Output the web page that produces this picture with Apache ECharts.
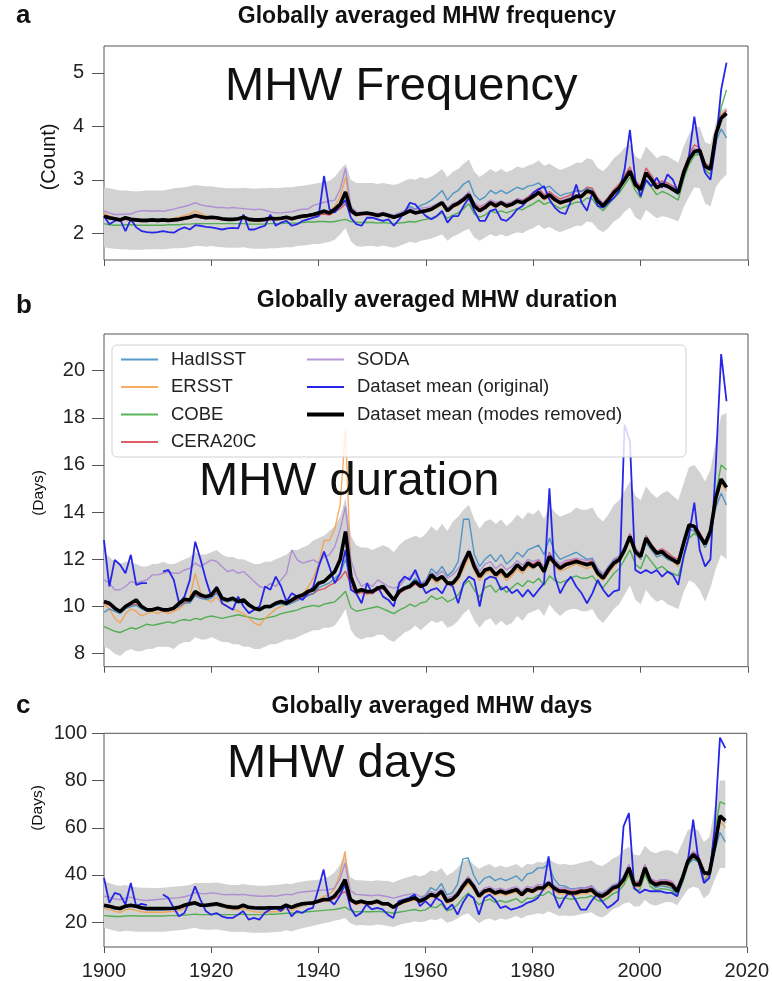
<!DOCTYPE html>
<html><head><meta charset="utf-8">
<script src="https://cdn.jsdelivr.net/npm/echarts@6/dist/echarts.min.js"></script>
<style>html,body{margin:0;padding:0;background:#fff}#c{width:772px;height:981px}</style>
</head><body><div id="c"></div>
<script>
const FIRST_YEAR = 1900, LAST_YEAR = 2016;
const years = []; for (let y = FIRST_YEAR; y <= LAST_YEAR; y++) years.push(y);
const xTicks = [1900, 1920, 1940, 1960, 1980, 2000, 2020];
const freqTicks = [2, 3, 4, 5];
const durTicks = [8, 10, 12, 14, 16, 18, 20];
const daysTicks = [20, 40, 60, 80, 100];
const seriesNames = ['HadISST', 'ERSST', 'COBE', 'CERA20C', 'SODA', 'Dataset mean (original)', 'Dataset mean (modes removed)'];

// ---------- Panel a: MHW frequency (count) ----------
const meanA = [
2.32,2.29,2.27,2.25,2.29,2.26,2.25,2.24,2.24,2.25,
2.24,2.25,2.24,2.25,2.26,2.28,2.30,2.33,2.31,2.29,
2.30,2.29,2.27,2.26,2.26,2.27,2.30,2.26,2.25,2.25,
2.26,2.28,2.27,2.28,2.30,2.27,2.30,2.32,2.33,2.35,
2.38,2.41,2.38,2.45,2.54,2.77,2.43,2.35,2.37,2.38,
2.36,2.33,2.36,2.33,2.30,2.33,2.37,2.42,2.38,2.40,
2.42,2.45,2.51,2.57,2.42,2.51,2.56,2.63,2.72,2.51,
2.42,2.48,2.57,2.51,2.57,2.51,2.54,2.60,2.57,2.63,
2.69,2.76,2.66,2.72,2.63,2.57,2.60,2.63,2.69,2.69,
2.79,2.76,2.60,2.51,2.63,2.76,2.85,3.00,3.16,2.91,
2.82,3.13,3.00,2.85,2.91,2.88,2.82,2.76,3.13,3.38,
3.53,3.55,3.25,3.20,3.84,4.15,4.24];
const origA = [
2.32,2.17,2.23,2.26,2.04,2.26,2.11,2.04,2.02,2.01,
2.02,2.04,2.02,2.01,2.07,2.11,2.07,2.15,2.14,2.12,
2.11,2.09,2.07,2.09,2.10,2.09,2.35,2.07,2.07,2.11,
2.14,2.35,2.14,2.20,2.23,2.14,2.17,2.23,2.26,2.29,
2.32,3.07,2.45,2.39,2.51,2.62,2.29,2.17,2.14,2.29,
2.29,2.26,2.23,2.26,2.14,2.26,2.39,2.57,2.54,2.42,
2.32,2.26,2.32,2.42,2.20,2.32,2.32,2.51,2.66,2.42,
2.23,2.23,2.42,2.45,2.26,2.23,2.32,2.45,2.51,2.63,
2.76,2.82,2.88,2.63,2.48,2.39,2.36,2.60,2.91,2.57,
2.42,2.76,2.51,2.48,2.57,2.66,2.79,3.19,3.93,3.00,
2.69,3.00,2.88,3.04,2.85,3.10,3.00,2.76,3.07,3.44,
4.18,3.50,3.13,3.00,3.68,4.68,5.19];
const sodaA = [
2.42,2.38,2.35,2.35,2.36,2.36,2.40,2.42,2.42,2.41,
2.42,2.41,2.43,2.45,2.48,2.50,2.53,2.57,2.53,2.51,
2.50,2.48,2.48,2.47,2.48,2.47,2.46,2.45,2.44,2.45,
2.43,2.40,2.38,2.38,2.39,2.40,2.43,2.45,2.45,2.52,
2.55,2.58,2.60,2.62,2.82,3.22,2.50,2.40,2.38,2.38,
2.38,2.37,2.39,2.36,2.34,2.38,2.42,2.46,2.44,2.47,
2.48,2.50,2.55,2.60,2.48,2.56,2.60,2.68,2.78,2.58,
2.50,2.55,2.62,2.58,2.60,2.56,2.58,2.64,2.62,2.66,
2.72,2.78,2.70,2.74,2.66,2.60,2.64,2.68,2.72,2.72,
2.80,2.78,2.64,2.56,2.66,2.80,2.88,3.02,3.20,2.95,
2.86,3.15,3.04,2.88,2.95,2.92,2.86,2.80,3.18,3.42,
3.58,3.56,3.28,3.24,3.88,4.18,4.25];
const ersstA = [
2.38,2.33,2.28,2.24,2.28,2.26,2.24,2.23,2.23,2.24,
2.24,2.25,2.26,2.28,2.30,2.33,2.36,2.42,2.37,2.32,
2.30,2.29,2.27,2.25,2.24,2.25,2.28,2.24,2.23,2.22,
2.23,2.26,2.25,2.26,2.28,2.25,2.28,2.30,2.32,2.34,
2.38,2.42,2.42,2.50,2.68,3.05,2.48,2.36,2.36,2.37,
2.35,2.32,2.35,2.32,2.28,2.31,2.35,2.40,2.36,2.40,
2.40,2.43,2.48,2.54,2.40,2.48,2.52,2.60,2.66,2.48,
2.40,2.46,2.54,2.48,2.55,2.48,2.52,2.58,2.55,2.60,
2.66,2.72,2.62,2.68,2.60,2.54,2.58,2.60,2.66,2.66,
2.75,2.72,2.57,2.48,2.60,2.72,2.82,2.98,3.12,2.88,
2.78,3.10,2.98,2.82,2.88,2.86,2.80,2.74,3.10,3.36,
3.50,3.52,3.22,3.18,3.82,4.20,4.30];
const cobeA = [
2.18,2.16,2.15,2.15,2.16,2.16,2.15,2.15,2.15,2.15,
2.15,2.15,2.16,2.16,2.16,2.17,2.17,2.18,2.18,2.18,
2.18,2.18,2.18,2.18,2.18,2.18,2.18,2.17,2.17,2.17,
2.17,2.18,2.18,2.18,2.19,2.19,2.19,2.20,2.21,2.21,
2.22,2.22,2.21,2.22,2.24,2.26,2.22,2.20,2.20,2.20,
2.20,2.19,2.20,2.19,2.18,2.19,2.20,2.22,2.21,2.24,
2.26,2.28,2.32,2.38,2.28,2.34,2.38,2.46,2.55,2.36,
2.30,2.34,2.42,2.38,2.42,2.38,2.42,2.46,2.44,2.50,
2.55,2.62,2.54,2.58,2.52,2.46,2.50,2.54,2.58,2.58,
2.66,2.64,2.50,2.42,2.54,2.66,2.75,2.90,3.05,2.80,
2.66,2.98,2.86,2.72,2.78,2.74,2.68,2.62,3.00,3.28,
3.45,3.48,3.18,3.10,3.85,4.35,4.68];
const ceraA = [
2.30,2.27,2.25,2.23,2.26,2.24,2.23,2.22,2.22,2.23,
2.22,2.23,2.22,2.23,2.24,2.26,2.28,2.31,2.29,2.27,
2.28,2.27,2.25,2.24,2.24,2.25,2.28,2.24,2.23,2.23,
2.24,2.26,2.25,2.26,2.28,2.25,2.28,2.30,2.31,2.33,
2.34,2.36,2.34,2.40,2.46,2.55,2.38,2.33,2.34,2.35,
2.34,2.31,2.34,2.31,2.28,2.32,2.36,2.41,2.37,2.42,
2.44,2.47,2.53,2.58,2.44,2.53,2.58,2.66,2.74,2.54,
2.46,2.52,2.60,2.55,2.60,2.55,2.58,2.64,2.62,2.68,
2.76,2.84,2.72,2.78,2.70,2.64,2.68,2.72,2.80,2.78,
2.86,2.84,2.66,2.56,2.68,2.82,2.92,3.08,3.24,2.98,
2.88,3.22,3.08,2.92,2.98,2.94,2.88,2.82,3.20,3.46,
3.65,3.60,3.30,3.26,3.90,4.20,4.30];
const hadA = [
2.30,2.27,2.25,2.24,2.27,2.25,2.24,2.23,2.23,2.24,
2.23,2.24,2.23,2.24,2.25,2.27,2.29,2.32,2.30,2.28,
2.29,2.28,2.26,2.25,2.25,2.26,2.29,2.25,2.24,2.24,
2.25,2.27,2.26,2.27,2.29,2.27,2.30,2.32,2.34,2.37,
2.40,2.44,2.40,2.46,2.52,2.60,2.42,2.36,2.37,2.38,
2.37,2.35,2.38,2.35,2.32,2.36,2.42,2.50,2.45,2.52,
2.56,2.62,2.70,2.80,2.62,2.74,2.80,2.92,2.98,2.72,
2.62,2.68,2.80,2.74,2.80,2.74,2.80,2.86,2.82,2.88,
2.90,2.94,2.84,2.88,2.78,2.70,2.74,2.76,2.80,2.78,
2.84,2.80,2.64,2.56,2.66,2.78,2.86,3.00,3.14,2.90,
2.80,3.10,2.96,2.84,2.90,2.86,2.80,2.72,3.10,3.36,
3.50,3.50,3.22,3.18,3.70,3.95,3.78];
const upperA = [
2.86,2.84,2.82,2.80,2.80,2.79,2.78,2.79,2.80,2.80,
2.80,2.80,2.82,2.84,2.85,2.86,2.88,2.90,2.89,2.88,
2.88,2.86,2.85,2.84,2.84,2.84,2.85,2.84,2.83,2.84,
2.84,2.85,2.84,2.85,2.86,2.86,2.88,2.89,2.90,2.92,
2.94,2.96,2.98,3.05,3.18,3.30,3.00,2.94,2.94,2.94,
2.94,2.92,2.94,2.92,2.90,2.93,2.98,3.02,3.00,3.05,
3.02,3.06,3.12,3.20,3.05,3.15,3.20,3.30,3.38,3.15,
3.05,3.12,3.20,3.14,3.20,3.14,3.18,3.25,3.22,3.26,
3.30,3.36,3.26,3.30,3.24,3.18,3.22,3.26,3.32,3.32,
3.40,3.38,3.22,3.16,3.26,3.40,3.48,3.60,3.66,3.44,
3.38,3.62,3.52,3.40,3.46,3.44,3.38,3.32,3.62,3.85,
4.00,3.98,3.70,3.66,4.05,4.30,4.35];
const lowerA = [
1.74,1.72,1.71,1.70,1.70,1.69,1.69,1.69,1.70,1.70,
1.70,1.70,1.71,1.72,1.72,1.73,1.74,1.76,1.76,1.75,
1.76,1.75,1.74,1.73,1.73,1.73,1.74,1.72,1.71,1.71,
1.71,1.72,1.72,1.73,1.74,1.74,1.76,1.77,1.78,1.80,
1.80,1.82,1.84,1.88,1.98,2.10,1.85,1.76,1.75,1.76,
1.76,1.75,1.77,1.75,1.73,1.76,1.80,1.84,1.82,1.86,
1.88,1.90,1.94,1.98,1.86,1.94,1.98,2.04,2.08,1.92,
1.86,1.92,1.98,1.94,1.98,1.94,1.98,2.02,2.00,2.06,
2.10,2.16,2.08,2.12,2.06,2.02,2.06,2.10,2.14,2.14,
2.22,2.20,2.08,2.02,2.10,2.22,2.28,2.40,2.48,2.30,
2.24,2.44,2.36,2.28,2.32,2.30,2.26,2.22,2.48,2.68,
2.86,2.84,2.56,2.50,2.86,3.00,3.10];

// ---------- Panel b: MHW duration (days) ----------
const meanB = [
10.21,10.14,9.93,9.79,10.00,10.14,10.28,10.00,9.86,9.86,
9.93,9.86,9.86,9.93,10.14,10.31,10.28,10.64,10.49,10.42,
10.49,10.78,10.35,10.28,10.35,10.21,10.28,10.07,9.93,9.86,
10.00,10.00,10.14,10.21,10.14,10.28,10.42,10.49,10.64,10.71,
10.99,11.06,11.27,11.48,11.98,13.18,11.27,10.64,10.71,10.64,
10.64,10.78,10.85,10.56,10.28,10.64,10.78,10.85,11.06,10.85,
10.95,11.34,11.13,11.27,10.99,10.99,11.27,11.84,12.33,11.69,
11.27,11.55,11.62,11.34,11.55,11.27,11.48,11.77,11.55,11.84,
11.69,11.84,11.48,12.12,11.84,11.62,11.77,11.84,11.91,11.84,
11.77,11.84,11.41,11.20,11.55,11.84,11.98,12.40,12.97,12.33,
12.12,12.90,12.54,12.26,12.33,12.12,11.98,11.84,12.68,13.46,
13.39,13.00,12.65,13.20,14.60,15.40,15.05];
const origB = [
12.82,10.85,11.98,11.77,11.41,12.19,10.92,10.99,10.99,null,
null,11.48,11.55,11.13,10.14,10.42,11.13,12.75,11.98,11.13,
10.42,10.85,10.14,10.00,9.86,10.42,10.00,9.72,9.86,10.00,
10.85,10.71,11.27,10.85,10.21,10.56,10.42,10.28,10.56,10.85,
11.69,12.33,11.69,10.99,11.41,12.40,10.71,10.56,10.14,10.99,
10.56,10.85,10.42,10.28,10.00,10.99,11.27,11.13,11.55,10.99,
10.56,10.71,10.78,10.56,10.99,10.85,10.14,10.99,11.27,11.13,
10.00,11.13,11.27,11.20,10.71,10.85,10.56,10.71,10.42,10.71,
10.42,10.71,10.99,15.01,11.27,10.56,10.99,11.27,10.85,10.56,
10.14,10.56,11.13,10.71,10.42,10.64,10.71,17.70,17.00,11.55,
11.41,11.55,11.41,11.55,11.27,11.48,11.34,10.92,12.12,13.00,
14.40,12.40,11.70,12.00,16.00,20.70,18.70];
const sodaB = [
11.13,10.99,10.71,10.71,10.85,11.06,10.99,11.06,11.13,11.34,
11.34,11.41,11.48,11.41,11.41,11.55,11.62,11.84,11.69,11.84,
11.98,11.91,11.69,11.48,11.55,11.41,11.48,11.27,11.06,10.85,
10.78,10.99,10.85,11.13,11.41,12.40,11.98,11.84,11.91,11.98,
11.84,12.12,12.19,12.54,13.25,14.24,11.98,11.27,10.85,10.99,
10.85,11.13,10.99,10.85,10.78,10.85,11.13,11.27,11.41,10.99,
11.10,11.45,11.30,11.50,11.20,11.35,11.60,12.00,12.40,11.90,
11.50,11.80,11.90,11.60,11.80,11.55,11.70,11.95,11.75,12.00,
11.90,12.00,11.70,12.25,12.00,11.80,11.95,12.00,12.05,12.00,
11.95,12.00,11.60,11.40,11.70,12.00,12.15,12.55,13.05,12.45,
12.25,13.00,12.60,12.35,12.40,12.20,12.05,11.95,12.75,13.45,
13.35,13.05,12.60,13.10,14.50,15.30,15.00];
const ersstB = [
10.10,9.90,9.50,9.30,9.70,9.90,9.80,9.60,9.70,9.80,
9.70,9.80,9.70,9.80,9.90,10.10,10.40,11.40,10.60,10.30,
10.20,10.40,10.10,10.00,9.90,9.80,9.70,9.50,9.30,9.20,
9.50,9.70,9.90,10.00,10.10,10.20,10.30,10.50,10.80,11.20,
11.80,12.80,12.80,13.30,14.30,17.50,11.50,10.50,10.60,10.50,
10.60,10.70,10.80,10.50,10.30,10.60,10.80,10.90,11.00,10.80,
10.90,11.20,11.00,11.20,10.90,10.90,11.10,11.60,12.10,11.50,
11.10,11.40,11.50,11.20,11.40,11.10,11.30,11.60,11.40,11.70,
11.60,11.80,11.40,12.00,11.70,11.50,11.60,11.70,11.80,11.70,
11.60,11.70,11.30,11.10,11.40,11.70,11.90,12.30,12.80,12.20,
12.00,12.80,12.40,12.10,12.20,12.00,11.90,11.70,12.50,13.30,
13.20,12.90,12.50,13.00,14.40,15.20,14.90];
const cobeB = [
9.15,9.05,8.95,8.90,9.00,9.10,9.05,9.15,9.25,9.20,
9.25,9.30,9.35,9.30,9.40,9.45,9.40,9.50,9.45,9.55,
9.60,9.55,9.50,9.55,9.60,9.65,9.60,9.55,9.50,9.45,
9.50,9.55,9.60,9.70,9.75,9.80,9.85,9.95,10.00,10.05,
10.00,10.10,10.15,10.20,10.40,10.65,9.95,9.80,9.85,9.90,
9.95,10.00,9.90,9.80,9.70,9.85,9.95,10.10,10.00,10.15,
10.20,10.45,10.30,10.40,10.20,10.30,10.50,10.90,11.10,10.70,
10.40,10.80,10.90,10.60,10.85,10.60,10.80,11.00,10.85,11.10,
11.00,11.20,10.90,11.30,11.10,11.00,11.10,11.20,11.30,11.20,
11.20,11.30,11.00,10.80,11.10,11.40,11.60,12.00,12.40,11.80,
11.60,12.20,11.90,11.60,11.70,11.50,11.40,11.30,12.10,12.90,
13.10,12.90,12.60,13.30,14.80,16.00,15.80];
const ceraB = [
10.15,10.05,9.90,9.75,9.95,10.05,10.10,9.95,9.85,9.85,
9.90,9.85,9.85,9.90,10.05,10.20,10.20,10.50,10.40,10.35,
10.40,10.60,10.30,10.25,10.30,10.20,10.25,10.05,9.95,9.90,
10.00,10.00,10.10,10.15,10.10,10.20,10.30,10.40,10.50,10.55,
10.70,10.75,10.90,11.00,11.20,11.50,10.90,10.55,10.60,10.55,
10.55,10.70,10.75,10.50,10.25,10.55,10.70,10.80,10.95,10.80,
10.95,11.30,11.10,11.25,10.95,11.00,11.25,11.80,12.20,11.70,
11.30,11.60,11.65,11.40,11.60,11.30,11.50,11.80,11.60,11.90,
11.80,11.95,11.55,12.30,11.90,11.70,11.85,11.95,12.00,11.90,
11.85,11.95,11.50,11.30,11.60,11.95,12.10,12.50,13.10,12.45,
12.25,13.00,12.65,12.35,12.45,12.30,12.10,12.00,12.80,13.50,
13.45,13.15,12.70,13.20,14.60,15.30,15.10];
const hadB = [
9.75,9.90,9.80,9.70,9.90,10.00,10.05,9.90,9.80,9.85,
9.90,9.85,9.85,9.90,10.00,10.15,10.15,10.45,10.35,10.30,
10.35,10.55,10.25,10.20,10.25,10.15,10.20,10.00,9.95,9.90,
9.95,9.95,10.05,10.10,10.05,10.15,10.25,10.35,10.45,10.55,
10.80,10.90,11.00,11.20,11.40,12.00,11.10,10.60,10.65,10.60,
10.60,10.75,10.80,10.55,10.30,10.60,10.80,10.95,11.20,10.95,
11.10,11.60,11.40,11.70,11.30,11.50,11.90,13.70,13.70,12.20,
11.70,12.00,12.20,11.90,12.20,11.80,12.00,12.30,12.10,12.40,
12.50,12.60,12.20,12.90,12.30,12.00,12.10,12.20,12.30,12.15,
12.00,12.05,11.60,11.30,11.70,12.00,12.10,12.40,12.90,12.30,
12.00,12.70,12.40,12.10,12.20,12.00,11.90,11.80,12.60,13.30,
13.20,12.90,12.50,13.00,14.20,14.80,14.30];
const upperB = [
12.3,12.1,11.9,11.8,11.9,11.9,11.8,11.7,11.7,11.8,
11.8,11.9,11.8,11.8,11.9,12.0,12.1,12.3,12.2,12.2,
12.3,12.4,12.2,12.1,12.1,12.0,12.0,11.9,11.8,11.8,
11.9,11.9,12.0,12.1,12.2,12.4,12.4,12.5,12.6,12.8,
12.9,13.0,13.2,13.4,13.8,14.6,13.0,12.6,12.5,12.5,
12.4,12.5,12.6,12.5,12.3,12.6,12.8,12.9,13.0,12.9,
13.1,13.4,13.2,13.5,13.2,13.6,13.8,14.1,14.3,13.7,
13.3,13.6,13.7,13.5,13.7,13.4,13.6,13.9,13.7,14.0,
13.9,14.1,13.7,14.3,14.0,13.8,13.9,14.0,14.2,14.1,
14.1,14.2,13.8,13.6,13.9,14.3,14.5,14.9,15.3,14.7,
14.5,15.1,14.8,14.6,14.8,14.9,14.7,14.5,15.2,15.9,
16.0,15.7,15.3,15.8,17.0,18.1,18.2];
const lowerB = [
8.3,8.2,8.0,7.9,8.1,8.2,8.1,8.1,8.2,8.2,
8.3,8.3,8.3,8.2,8.4,8.5,8.5,8.7,8.6,8.6,
8.7,8.6,8.5,8.5,8.4,8.4,8.3,8.3,8.2,8.2,
8.3,8.4,8.4,8.5,8.6,8.6,8.7,8.8,8.9,9.0,
9.0,9.1,9.1,9.2,9.5,9.9,9.0,8.7,8.6,8.7,
8.7,8.8,8.8,8.6,8.5,8.7,8.9,9.0,9.2,9.0,
9.2,9.4,9.3,9.4,9.1,9.2,9.4,9.7,9.9,9.4,
9.1,9.4,9.5,9.2,9.4,9.2,9.3,9.6,9.4,9.7,
9.8,9.9,9.6,10.1,9.8,9.6,9.8,9.9,9.9,9.8,
9.8,9.9,9.5,9.3,9.6,9.9,10.1,10.5,10.9,10.3,
10.1,10.7,10.4,10.2,10.3,10.1,10.0,9.9,10.6,11.1,
11.0,10.7,10.2,10.8,11.6,12.2,12.0];

// ---------- Panel c: MHW days ----------
const meanC = [
27.2,26.8,26.1,25.8,26.8,27.2,26.8,26.1,25.8,25.8,
25.8,25.8,25.8,25.9,26.3,27.2,27.8,28.2,27.2,27.2,
27.5,27.8,27.2,26.6,26.3,26.3,27.2,26.3,26.1,26.0,
26.0,26.1,26.1,26.1,27.2,26.3,27.2,27.8,28.0,28.2,
28.9,29.6,29.6,31.0,33.8,38.0,29.6,28.2,28.9,28.2,
28.2,28.9,27.8,27.8,26.3,27.8,28.9,29.6,30.3,28.9,
30.0,31.7,31.0,33.1,28.9,29.6,31.7,35.2,38.0,35.2,
31.0,33.1,33.8,32.4,33.1,32.4,33.1,33.8,31.7,33.8,
33.1,34.5,34.5,36.6,34.5,33.1,33.1,32.4,32.4,33.1,
33.1,33.8,31.7,31.0,32.4,34.5,35.2,38.0,43.0,35.9,
35.9,43.0,37.3,35.9,36.6,36.6,35.9,33.1,38.7,45.8,
48.6,46.5,41.0,40.5,52.0,65.0,63.0];
const origC = [
38.7,28.2,32.4,31.7,27.5,36.6,26.8,27.8,27.2,null,
null,31.7,30.3,26.1,22.5,23.9,28.9,35.2,29.6,24.7,
23.2,23.9,22.5,21.8,21.8,23.2,24.7,21.1,21.8,21.1,
23.9,25.4,26.1,24.7,26.8,22.5,24.7,23.9,25.4,26.1,
33.8,42.3,29.6,27.5,31.0,35.9,26.1,22.5,23.9,27.5,
25.4,26.1,25.4,23.2,21.8,28.9,29.6,30.3,31.7,26.8,
28.9,26.8,30.3,28.9,25.3,27.5,23.2,28.2,31.7,30.3,
23.2,30.3,31.7,29.6,26.0,26.8,25.3,26.0,26.8,28.2,
28.9,30.3,33.8,47.9,31.7,26.0,30.3,33.1,29.6,25.3,
25.3,28.9,31.7,28.9,26.0,27.5,29.6,60.6,66.2,34.5,
32.4,33.8,33.1,33.1,33.1,32.4,32.4,31.0,38.7,45.8,
63.4,45.8,36.6,38.7,60.0,98.2,93.7];
const sodaC = [
31.0,30.6,29.8,29.6,30.2,30.6,29.8,29.4,29.2,29.4,
29.6,29.8,30.0,30.2,30.4,30.8,31.4,32.6,32.2,32.0,
32.4,32.2,31.8,31.6,31.8,31.6,31.8,31.4,31.2,31.0,
31.0,31.2,31.0,31.4,31.8,31.6,32.4,32.8,33.0,33.2,
33.4,33.6,33.8,34.4,38.0,45.0,33.4,31.8,31.6,31.4,
31.2,31.6,31.2,30.8,30.2,30.8,31.4,31.8,32.2,30.8,
31.2,33.0,32.2,34.2,30.4,31.0,33.0,36.6,39.4,36.4,
32.6,34.4,35.0,33.8,34.4,33.6,34.4,35.0,33.2,35.2,
34.6,36.0,35.8,37.4,35.8,34.4,34.6,34.0,34.0,34.6,
34.6,35.4,33.2,32.4,33.8,35.8,36.6,39.6,44.4,37.4,
37.4,44.4,38.8,37.4,38.0,38.0,37.4,34.6,40.2,47.2,
50.0,48.6,40.2,42.0,56.0,65.0,62.0];
const ersstC = [
26.0,25.4,24.6,24.2,25.2,25.6,25.0,24.4,24.2,24.2,
24.2,24.2,24.4,24.6,25.0,26.0,27.0,29.0,27.4,26.8,
26.8,27.2,26.4,25.8,25.4,25.2,25.8,25.0,24.4,24.2,
24.2,24.4,24.4,24.6,25.6,25.0,26.0,26.8,27.4,28.2,
29.4,31.0,31.6,34.0,40.0,50.0,30.0,27.4,28.0,27.6,
27.6,28.2,27.4,27.2,25.8,27.2,28.2,28.8,29.4,28.2,
29.2,30.8,30.0,32.0,28.0,28.8,30.8,34.0,36.4,34.0,
30.2,32.2,32.8,31.4,32.2,31.4,32.2,32.8,31.0,33.0,
32.4,33.6,33.4,35.0,33.2,32.0,32.0,31.4,31.4,32.0,
32.0,32.8,30.6,29.8,31.4,33.2,34.2,37.0,41.6,35.0,
34.8,41.6,36.4,35.0,35.6,35.6,35.0,32.2,37.8,44.8,
47.4,46.2,38.0,40.0,54.0,63.0,60.0];
const cobeC = [
22.8,22.6,22.4,22.4,22.6,22.8,22.6,22.6,22.6,22.6,
22.6,22.6,22.8,22.8,22.8,23.0,23.2,23.4,23.2,23.2,
23.2,23.4,23.2,23.2,23.2,23.2,23.4,23.2,23.2,23.2,
23.2,23.4,23.4,23.6,23.8,23.8,24.0,24.2,24.4,24.6,
24.8,25.0,25.2,25.4,25.8,26.4,25.0,24.4,24.4,24.4,
24.4,24.6,24.4,24.2,23.8,24.2,24.6,25.0,25.4,24.8,
25.2,26.6,26.2,27.8,24.8,25.6,27.4,30.2,32.4,30.0,
27.4,29.0,29.8,28.4,29.2,28.4,29.2,30.0,28.2,30.2,
30.0,31.4,31.4,33.0,31.2,30.0,30.4,29.8,29.8,30.4,
30.4,31.2,29.4,28.6,30.2,32.0,33.0,35.6,40.2,33.8,
33.6,40.2,35.2,33.6,34.2,34.0,33.4,31.0,36.6,44.0,
47.0,45.6,38.0,40.5,58.0,71.0,70.0];
const ceraC = [
27.0,26.5,25.8,25.5,26.5,26.8,26.4,25.8,25.4,25.4,
25.4,25.4,25.5,25.6,26.0,26.8,27.4,27.8,27.0,26.8,
27.0,27.4,26.8,26.2,26.0,26.0,26.8,26.0,25.8,25.6,
25.6,25.8,25.8,25.8,26.8,26.0,26.8,27.4,27.6,27.8,
28.4,29.0,29.0,30.0,31.6,33.0,28.8,27.6,28.4,27.8,
27.8,28.4,27.4,27.4,26.0,27.4,28.4,29.2,29.8,28.6,
30.0,32.0,31.2,33.4,29.2,29.8,32.0,35.6,38.4,35.6,
31.6,33.6,34.2,32.8,33.6,32.8,33.6,34.2,32.2,34.4,
33.8,35.2,35.0,37.2,35.2,33.8,33.8,33.2,33.2,33.8,
33.8,34.6,32.4,31.6,33.2,35.2,36.2,39.0,44.2,37.0,
36.8,44.2,38.4,36.8,37.4,37.4,36.8,34.0,39.8,47.0,
49.6,48.2,39.8,42.0,56.0,65.0,63.0];
const hadC = [
26.6,26.2,25.6,25.4,26.2,26.6,26.2,25.6,25.2,25.2,
25.2,25.2,25.4,25.4,25.8,26.6,27.2,27.6,26.8,26.6,
26.8,27.2,26.6,26.0,25.8,25.8,26.6,25.8,25.6,25.4,
25.4,25.6,25.6,25.6,26.6,25.8,26.6,27.2,27.6,28.0,
28.8,29.6,29.6,31.0,33.0,36.0,29.6,28.2,28.8,28.2,
28.2,28.8,28.0,27.8,26.6,28.2,29.2,30.0,31.0,29.6,
31.4,34.6,33.4,36.4,31.6,32.4,36.0,46.8,47.2,40.0,
36.0,38.6,39.4,37.6,38.6,37.6,38.6,39.6,37.4,40.4,
41.0,43.0,43.0,44.6,38.4,35.6,35.4,34.2,34.2,34.6,
34.6,35.4,33.0,32.2,33.6,35.4,36.2,39.0,43.6,36.4,
35.2,42.0,36.6,34.6,35.4,35.0,34.4,31.8,37.2,44.4,
46.6,45.4,37.6,39.0,50.0,58.0,54.0];
const upperC = [
37.3,36.6,35.8,35.4,35.8,35.2,34.8,34.6,34.6,34.5,
34.5,34.6,34.8,35.0,35.2,35.4,35.8,36.6,36.6,36.6,
36.6,36.8,36.4,36.0,35.8,35.8,36.2,35.8,35.6,35.4,
35.4,35.6,35.8,36.0,36.4,36.2,36.8,37.2,37.6,37.8,
38.0,38.6,39.4,41.0,44.0,48.6,39.0,37.8,37.8,37.6,
37.4,37.8,37.6,37.4,36.8,37.8,38.6,39.2,40.0,39.4,
40.2,42.0,41.4,43.0,39.8,41.0,43.0,45.8,46.6,44.4,
42.6,43.8,44.6,43.2,44.0,43.2,43.8,44.6,43.0,44.8,
44.4,45.6,45.2,46.8,45.4,44.4,44.6,44.2,44.4,45.2,
45.6,46.2,44.4,43.8,45.2,47.0,48.0,50.6,52.0,48.6,
48.2,52.4,50.0,49.2,50.2,50.6,50.2,48.8,53.6,59.0,
60.0,58.6,54.0,56.0,68.0,80.0,80.0];
const lowerC = [
17.6,17.0,16.4,16.0,16.4,16.2,16.0,16.0,16.0,16.0,
16.0,16.0,16.2,16.4,16.6,16.8,17.2,17.6,17.0,16.8,
16.8,17.0,16.6,16.2,16.0,15.8,16.0,15.6,15.5,15.5,
15.5,15.6,15.8,16.0,16.6,16.2,16.8,17.4,18.0,18.4,
19.0,19.6,20.0,20.6,21.0,21.8,19.6,18.6,18.8,18.6,
18.6,19.0,18.8,18.4,18.0,18.8,19.4,19.8,20.4,20.0,
20.4,21.2,20.8,21.8,19.8,20.4,21.6,23.0,23.8,21.6,
19.6,21.0,21.6,20.6,21.6,21.0,21.8,22.6,21.6,22.8,
23.2,23.8,23.4,24.6,23.6,22.6,22.8,22.6,22.8,23.4,
23.8,24.2,22.6,22.0,23.4,25.6,26.2,27.8,28.6,26.6,
26.8,29.4,27.6,27.0,27.8,28.6,28.4,27.2,30.6,34.0,
35.0,34.4,30.0,32.0,38.0,43.0,43.0];

// ---------- styling ----------
const FONT = '"Liberation Sans", Arial, Helvetica, sans-serif';
const colors = {
  'HadISST': '#3b8bbf', 'ERSST': '#f59d45', 'COBE': '#3da83d', 'CERA20C': '#d9434f',
  'SODA': '#a884d2', 'Dataset mean (original)': '#2626e8', 'Dataset mean (modes removed)': '#000000'
};
const panels = [
  {mean: meanA, orig: origA, had: hadA, ersst: ersstA, cobe: cobeA, cera: ceraA, soda: sodaA, up: upperA, lo: lowerA,
   top: 46, height: 214, min: 1.5, max: 5.5, ticks: freqTicks, xLabels: false, labelMargin: 20},
  {mean: meanB, orig: origB, had: hadB, ersst: ersstB, cobe: cobeB, cera: ceraB, soda: sodaB, up: upperB, lo: lowerB,
   top: 334, height: 332.7, min: 7.45, max: 21.55, ticks: durTicks, xLabels: false, labelMargin: 19},
  {mean: meanC, orig: origC, had: hadC, ersst: ersstC, cobe: cobeC, cera: ceraC, soda: sodaC, up: upperC, lo: lowerC,
   top: 733.3, height: 215, min: 9.5, max: 100, ticks: daysTicks, xLabels: true, labelMargin: 17}
];

const grids = [], xAxes = [], yAxes = [], series = [];
function pairs(vals) { return vals.map((v, i) => [years[i], v]); }

panels.forEach((p, k) => {
  grids.push({left: 104, width: 644, top: p.top, height: p.height, show: true,
    borderColor: '#555', borderWidth: 1, backgroundColor: 'transparent'});
  xAxes.push({type: 'value', gridIndex: k, min: 1900, max: 2020, interval: 20,
    axisLine: {show: false}, splitLine: {show: false},
    axisTick: {show: true, length: 6, lineStyle: {color: '#555'}, customValues: xTicks},
    axisLabel: {show: p.xLabels, margin: 14, fontSize: 20, color: '#222', fontFamily: FONT,
      customValues: xTicks, formatter: v => String(v)}});
  yAxes.push({type: 'value', gridIndex: k, min: p.min, max: p.max,
    axisLine: {show: false}, splitLine: {show: false},
    axisTick: {show: true, length: 12, lineStyle: {color: '#555'}, customValues: p.ticks},
    axisLabel: {margin: p.labelMargin, fontSize: 20, color: '#222', fontFamily: FONT, customValues: p.ticks}});

  const up = p.up, lo = p.lo;
  series.push({
    type: 'custom', xAxisIndex: k, yAxisIndex: k, silent: true, z: 1,
    data: years.map((y, i) => [y, lo[i], up[i]]),
    encode: {x: 0, y: [1, 2]},
    renderItem: function (params, api) {
      if (params.dataIndex !== 0) return null;
      const pts = [];
      for (let i = 0; i < years.length; i++) pts.push(api.coord([years[i], up[i]]));
      for (let i = years.length - 1; i >= 0; i--) pts.push(api.coord([years[i], lo[i]]));
      return {type: 'polygon', shape: {points: pts}, style: {fill: '#d2d2d2'}};
    }
  });
  const lines = [
    ['COBE', p.cobe, 1.4], ['ERSST', p.ersst, 1.4], ['CERA20C', p.cera, 1.4], ['HadISST', p.had, 1.4],
    ['SODA', p.soda, 1.4], ['Dataset mean (original)', p.orig, 1.8], ['Dataset mean (modes removed)', p.mean, 3.6]
  ];
  lines.forEach(([name, vals, w], j) => {
    series.push({
      type: 'line', name: name, xAxisIndex: k, yAxisIndex: k, data: pairs(vals),
      symbol: 'none', showSymbol: false, connectNulls: false, silent: true, z: 2 + j * 0.01,
      lineStyle: {color: colors[name], width: w, opacity: name.startsWith('Dataset') ? 1 : 0.85},
      itemStyle: {color: colors[name]}
    });
  });
});

function txt(x, y, s, size, weight, align, rot) {
  return {type: 'text', x: x, y: y, rotation: rot || 0, z: 20,
    style: {text: s, font: (weight || 'normal') + ' ' + size + 'px ' + FONT, fill: '#111',
      textAlign: align || 'left', textVerticalAlign: 'middle', align: align || 'left', verticalAlign: 'middle'}};
}

const legendCommon = {
  top: 345, orient: 'vertical', itemWidth: 37, itemHeight: 14, itemGap: 8.5, selectedMode: false,
  itemStyle: {opacity: 0, borderWidth: 0},
  textStyle: {fontSize: 18.5, color: '#222', fontFamily: FONT, padding: [0, 0, 0, 8]}
};
const option = {
  animation: false,
  backgroundColor: '#ffffff',
  grid: grids, xAxis: xAxes, yAxis: yAxes, series: series,
  legend: [
    Object.assign({left: 115, data: ['HadISST', 'ERSST', 'COBE', 'CERA20C']}, legendCommon),
    Object.assign({left: 300, data: ['SODA', 'Dataset mean (original)',
      {name: 'Dataset mean (modes removed)', lineStyle: {width: 4}}]}, legendCommon)
  ],
  graphic: [
    {type: 'rect', z: 3, shape: {x: 112, y: 345, width: 574, height: 112, r: 5},
     style: {fill: 'rgba(255,255,255,0.82)', stroke: '#d0d0d0', lineWidth: 1}},
    txt(16, 16, 'a', 26, 'bold'),
    txt(16, 306, 'b', 26, 'bold'),
    txt(16, 706, 'c', 26, 'bold'),
    txt(427, 17, 'Globally averaged MHW frequency', 23, 'bold', 'center'),
    txt(437, 301, 'Globally averaged MHW duration', 23, 'bold', 'center'),
    txt(432, 707, 'Globally averaged MHW days', 23, 'bold', 'center'),
    txt(225, 87, 'MHW Frequency', 47, 'normal'),
    txt(199, 482, 'MHW duration', 47, 'normal'),
    txt(227, 764, 'MHW days', 47, 'normal'),
    txt(49, 157, '(Count)', 20, 'normal', 'center', Math.PI / 2),
    txt(39, 493, '(Days)', 15.5, 'normal', 'center', Math.PI / 2),
    txt(38, 808, '(Days)', 15.5, 'normal', 'center', Math.PI / 2)
  ]
};
const chart = echarts.init(document.getElementById('c'), null, {renderer: 'canvas'});
chart.setOption(option);
</script></body></html>
